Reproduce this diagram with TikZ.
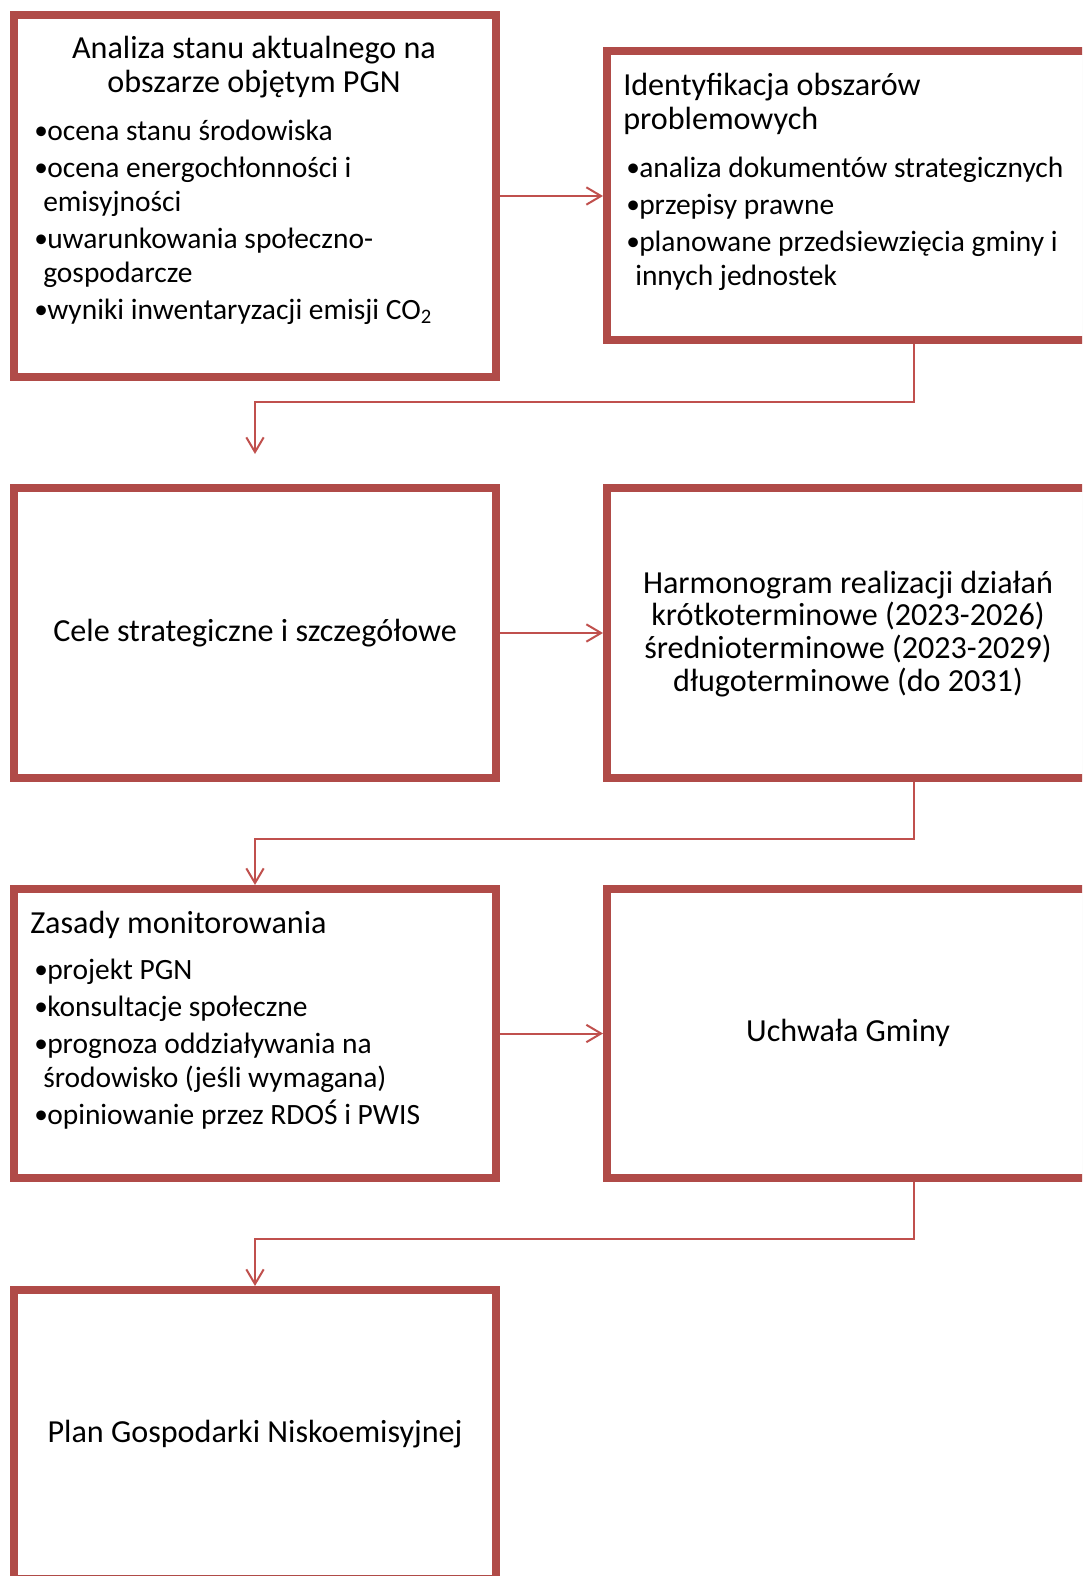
\documentclass[tikz,border=0pt]{standalone}
\usepackage{fontspec}
\setmainfont{Carlito}
\usetikzlibrary{arrows.meta,shadows}
\definecolor{boxred}{RGB}{176,75,72}
\definecolor{linkred}{RGB}{192,80,77}
\newcommand{\hstrut}{\rule{0pt}{20pt}}
\newcommand{\itm}{\makebox[10.5pt][l]{\hspace{0.8pt}\raisebox{0.3pt}{\fontsize{20.5}{20.5}\selectfont •}}}
\newcommand{\cont}{\hspace*{7.5pt}}
\tikzset{
  stage/.style={draw=boxred, line width=6pt, fill=white, inner sep=0pt,
    minimum width=361.5pt, minimum height=217pt,
    font=\fontsize{24.1}{26}\selectfont,
    drop shadow={shadow xshift=1pt, shadow yshift=-2pt, opacity=0.22}},
  wide/.style={stage, minimum width=460.5pt},
  txt/.style={inner sep=0pt, font=\fontsize{24.1}{26}\selectfont},
  sub/.style={inner sep=0pt, font=\fontsize{22.1}{25.5}\selectfont},
  link/.style={draw=linkred, line width=1.5pt, -{Straight Barb[length=11pt,width=13pt]}}
}
\begin{document}
\begin{tikzpicture}[x=0.75pt,y=-0.75pt]
\useasboundingbox (0,0) rectangle (1082,1576);
\clip (0,0) rectangle (1082,1576);
%\draw[step=50,gray,very thin] (0,0) grid (1082,1576);
% boxes
\node[stage, minimum height=271.5pt] (b1) at (255,196) {};
\node[wide, minimum height=216.75pt] (b2) at (914,195.5) {};
\node[stage] (b3) at (255,633) {Cele strategiczne i szczegółowe};
\node[wide] (b4) at (914,633) {};
\node[stage, minimum height=216.75pt] (b5) at (255,1033.5) {};
\node[wide, minimum height=216.75pt] (b6) at (914,1033.5) {};
\node[stage, minimum height=216.75pt] (b7) at (255,1434.5) {Plan Gospodarki Niskoemisyjnej};
% texts
\node[txt, anchor=north, align=center] (t1) at (254,31.3)
  {\hstrut Analiza stanu aktualnego na\\ obszarze objętym PGN};
\node[sub, anchor=north west, align=left] (l1) at (33,113.3)
  {\hstrut\itm ocena stanu środowiska\\[2.25pt]
   \itm ocena energochłonności i\\
   \cont emisyjności\\[2.25pt]
   \itm uwarunkowania społeczno-\\
   \cont gospodarcze\\[2.25pt]
   \itm wyniki inwentaryzacji emisji CO\textsubscript{2}};
\node[txt, anchor=north west, align=left] (t2) at (623,68.3)
  {\hstrut Identyfikacja obszarów\\ problemowych};
\node[sub, anchor=north west, align=left] (l2) at (625,150.3)
  {\hstrut\itm analiza dokumentów strategicznych\\[2.25pt]
   \itm przepisy prawne\\[2.25pt]
   \itm planowane przedsiewzięcia gminy i\\
   \cont innych jednostek};
\node[txt, anchor=north, align=center, font=\fontsize{24.1}{24.5}\selectfont] (t4) at (848,566.3)
  {\hstrut Harmonogram realizacji działań\\ krótkoterminowe (2023-2026)\\
   średnioterminowe (2023-2029)\\ długoterminowe (do 2031)};
\node[txt, anchor=north west, align=left] (t5) at (30,906.3)
  {\hstrut Zasady monitorowania};
\node[sub, anchor=north west, align=left] (l5) at (33,952.3)
  {\hstrut\itm projekt PGN\\[2.25pt]
   \itm konsultacje społeczne\\[2.25pt]
   \itm prognoza oddziaływania na\\
   \cont środowisko (jeśli wymagana)\\[2.25pt]
   \itm opiniowanie przez RDOŚ i PWIS};
\node[txt] (t6) at (848,1033) {Uchwała Gminy};
% connectors
\coordinate (k1) at (255,402);
\coordinate (e1) at (255,454);
\coordinate (k2) at (255,839);
\coordinate (k3) at (255,1239);
\draw[link] (b1.east) -- (b1.east -| b2.west);
\draw[link] (b2.south) |- (k1) -- (e1);
\draw[link] (b3.east) -- (b4.west);
\draw[link] (b4.south) |- (k2) -- (b5.north);
\draw[link] (b5.east) -- (b6.west);
\draw[link] (b6.south) |- (k3) -- (b7.north);
\end{tikzpicture}
\end{document}
